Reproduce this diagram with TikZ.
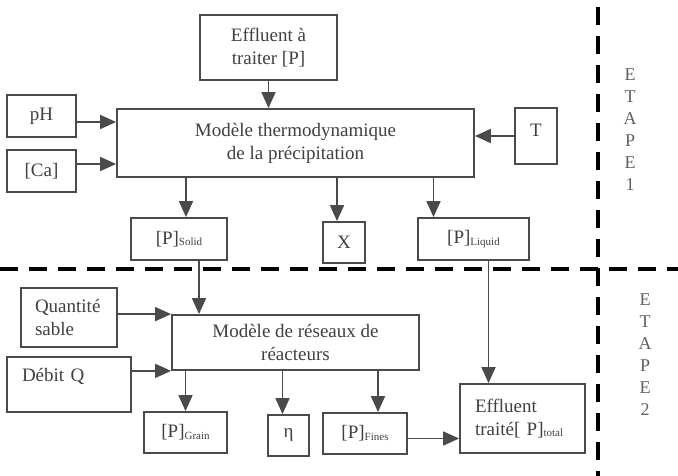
\documentclass[tikz,border=0pt]{standalone}
\usepackage{fontspec}
\setmainfont{Liberation Serif}
\usetikzlibrary{arrows.meta}
\definecolor{boxgray}{HTML}{4A4A4A}
\definecolor{txtgray}{HTML}{404040}
\definecolor{lightgray}{HTML}{606060}
\newcommand{\psub}[1]{\raisebox{-1.5pt}{\fontsize{11}{11}\selectfont #1}}

\begin{document}
\begin{tikzpicture}[x=1pt,y=-1pt,
  box/.style={draw=boxgray,line width=1.8pt,inner sep=0pt,text=txtgray,font=\fontsize{19}{23}\selectfont,align=center},
  arr/.style={draw=boxgray,line width=1.8pt,-{Triangle[length=16pt,width=14pt]}},
  sep/.style={line width=4.5pt,dash pattern=on 18pt off 11pt},
  etape/.style={text=lightgray,font=\fontsize{18}{22}\selectfont,align=center,inner sep=0pt}]
\useasboundingbox (0,0) rectangle (678,476);
\node[box,minimum width=137pt,minimum height=65pt] (effin) at (268.5,47.5) {Effluent à\\traiter [P]};
\node[box,minimum width=357pt,minimum height=68pt] (thermo) at (295.5,143) {Modèle thermodynamique\\de la précipitation};
\node[box,minimum width=69pt,minimum height=42pt] (ph) at (41.5,116) {pH};
\node[box,minimum width=69pt,minimum height=42pt] (ca) at (41.5,171) {[Ca]};
\node[box,minimum width=42pt,minimum height=56pt,text depth=12pt] (temp) at (536,136) {T};
\node[box,minimum width=96pt,minimum height=42pt] (solid) at (179,239) {[P]\psub{Solid}};
\node[box,minimum width=42pt,minimum height=41pt] (xnode) at (344,242.5) {X};
\node[box,minimum width=111pt,minimum height=42pt] (liquid) at (473.5,239) {[P]\psub{Liquid}};
\node[box,minimum width=247pt,minimum height=55pt] (reseau) at (295.5,342.5) {Modèle de réseaux de\\réacteurs};
\node[box,minimum width=96pt,minimum height=59pt,text width=68pt,align=left] (sable) at (69,317.5) {Quantité\\sable};
\node[box,minimum width=124pt,minimum height=55pt,text width=94pt,align=left,text depth=20pt] (debit) at (69,384.5) {Débit Q};
\node[box,minimum width=83pt,minimum height=41pt] (grain) at (185.5,432.5) {[P]\psub{Grain}};
\node[box,minimum width=41pt,minimum height=41pt] (eta) at (288.5,435.5) {η};
\node[box,minimum width=84pt,minimum height=41pt] (fines) at (365,433.5) {[P]\psub{Fines}};
\node[box,minimum width=125pt,minimum height=69pt,text width=95pt,align=left] (effout) at (522.5,418.5) {Effluent\\traité[ P]\psub{total}};
\node[etape] (etape1) at (630,130) {E\\T\\A\\P\\E\\1};
\node[etape] (etape2) at (645,355) {E\\T\\A\\P\\E\\2};
\draw[sep] (0,269) -- (678,269);
\draw[sep] (598,7) -- (598,476);
\draw[arr] (effin.south) -- (effin.south |- thermo.north);
\draw[arr] ([yshift=-6pt]ph.east) -- ([yshift=-6pt]ph.east -| thermo.west);
\draw[arr] ([yshift=7pt]ca.east) -- ([yshift=7pt]ca.east -| thermo.west);
\draw[arr] (temp.west) -- (temp.west -| thermo.east);
\draw[arr] ([xshift=7pt]solid.north |- thermo.south) -- ([xshift=7pt]solid.north);
\draw[arr] ([xshift=-7pt]xnode.north |- thermo.south) -- ([xshift=-7pt]xnode.north);
\draw[arr] ([xshift=-40pt]liquid.north |- thermo.south) -- ([xshift=-40pt]liquid.north);
\draw[arr] ([xshift=20pt]solid.south) -- ([xshift=20pt]solid.south |- reseau.north);
\draw[arr] (sable.east |- reseau.north west) -- (reseau.north west);
\draw[arr] (debit.east |- reseau.south west) -- (reseau.south west);
\draw[arr] (grain.north |- reseau.south) -- (grain.north);
\draw[arr] ([xshift=-6pt]eta.north |- reseau.south) -- ([xshift=-6pt]eta.north);
\draw[arr] ([xshift=13pt]fines.north |- reseau.south) -- ([xshift=13pt]fines.north);
\draw[arr] ([xshift=15pt]liquid.south) -- ([xshift=15pt]liquid.south |- effout.north);
\draw[arr] ([yshift=-5pt]fines.east) -- ([yshift=-5pt]fines.east -| effout.west);
\end{tikzpicture}
\end{document}
